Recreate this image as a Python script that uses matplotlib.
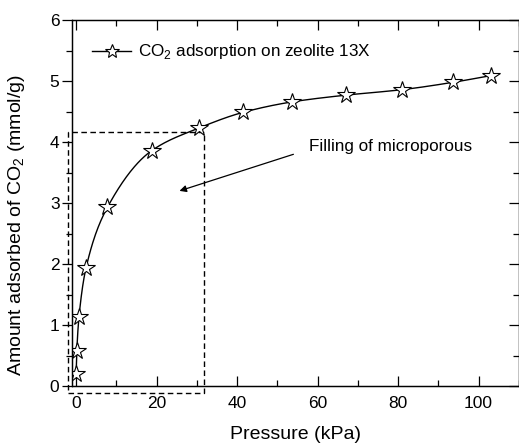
import numpy as np
import matplotlib
matplotlib.use('Agg')
import matplotlib.pyplot as plt
from matplotlib.patches import Rectangle
from matplotlib.ticker import MultipleLocator

plt.rcParams['font.family'] = ['Liberation Sans', 'DejaVu Sans']
plt.rcParams['mathtext.fontset'] = 'custom'
plt.rcParams['mathtext.rm'] = 'Liberation Sans'

# CO2 isotherm
pressure = [0.02, 0.2, 0.75, 2.5, 7.8, 18.8, 30.5, 41.6, 53.7, 67.0, 81.0, 93.6, 103.0]
adsorbed = [0.19, 0.58, 1.14, 1.94, 2.93, 3.86, 4.23, 4.49, 4.66, 4.77, 4.86, 4.98, 5.09]

legend_label = 'CO$_\\mathrm{2}$ adsorption on zeolite 13X'
note_text = 'Filling of microporous'


def pchip(x, y, xn):
    # monotone cubic line through the points, like the origin b-spline
    x = np.asarray(x, float)
    y = np.asarray(y, float)
    h = np.diff(x)
    d = np.diff(y) / h
    m = np.zeros_like(y)
    m[0] = d[0]
    m[-1] = d[-1]
    for k in range(1, len(x) - 1):
        if d[k - 1] * d[k] > 0:
            w1 = 2 * h[k] + h[k - 1]
            w2 = h[k] + 2 * h[k - 1]
            m[k] = (w1 + w2) / (w1 / d[k - 1] + w2 / d[k])
    idx = np.clip(np.searchsorted(x, xn) - 1, 0, len(x) - 2)
    t = (xn - x[idx]) / h[idx]
    h00 = 2 * t**3 - 3 * t**2 + 1
    h10 = t**3 - 2 * t**2 + t
    h01 = -2 * t**3 + 3 * t**2
    h11 = t**3 - t**2
    return h00 * y[idx] + h10 * h[idx] * m[idx] + h01 * y[idx + 1] + h11 * h[idx] * m[idx + 1]


fig = plt.figure(figsize=(5.19, 4.44), dpi=100)
ax = fig.add_axes([0.1387, 0.1306, 0.861, 0.824])

xs = np.concatenate([np.linspace(pressure[0], 3, 300), np.linspace(3, pressure[-1], 600)])
ax.plot(xs, pchip(pressure, adsorbed, xs), color='k', lw=1)
ax.plot(pressure, adsorbed, ls='none', marker='*', ms=13, mfc='white', mec='k', mew=0.8)

# legend handle: line with star in the middle
ax.plot([], [], color='k', lw=1, marker='*', ms=10, mfc='white', mec='k', mew=0.8, label=legend_label)
ax.legend(loc='center left', frameon=False, fontsize=12.3, handlelength=2.3, handletextpad=0.4,
          numpoints=1, bbox_to_anchor=(0.045, 0.913), borderaxespad=0, borderpad=0)

ax.add_patch(Rectangle((-2.05, -0.11), 33.75, 4.28, fill=False, ls=(0, (4, 2.5)), lw=1,
                       color='k', clip_on=False))

ax.annotate('', xy=(25.7, 3.2), xytext=(54, 3.8),
            arrowprops=dict(arrowstyle='-|>', color='k', lw=0.9, mutation_scale=10, shrinkA=0, shrinkB=0))
ax.text(57.9, 3.93, note_text, fontsize=12.3, va='center', ha='left')

ax.set_xlim(-1, 110)
ax.set_ylim(0, 6)
ax.xaxis.set_major_locator(MultipleLocator(20))
ax.xaxis.set_minor_locator(MultipleLocator(10))
ax.yaxis.set_major_locator(MultipleLocator(1))
ax.yaxis.set_minor_locator(MultipleLocator(0.5))
ax.tick_params(axis='x', which='both', direction='in', top=True, labelsize=12.5, pad=7)
ax.tick_params(axis='y', which='both', direction='out', labelsize=12.5, pad=2)
ax.tick_params(which='major', length=7, width=0.9)
ax.tick_params(which='minor', length=4, width=0.9)

# right axis ticks point inward, left outward
ax2 = ax.twinx()
ax2.set_ylim(0, 6)
ax2.yaxis.set_major_locator(MultipleLocator(1))
ax2.yaxis.set_minor_locator(MultipleLocator(0.5))
ax2.tick_params(which='both', direction='in', labelright=False, width=0.9)
ax2.tick_params(which='major', length=7)
ax2.tick_params(which='minor', length=4)

for a in (ax, ax2):
    for s in a.spines.values():
        s.set_linewidth(0.9)

ax.set_xlabel('Pressure (kPa)', fontsize=14)
ax.set_ylabel('Amount adsorbed of CO$_\\mathrm{2}$ (mmol/g)', fontsize=14)
ax.xaxis.set_label_coords(0.5, -0.11)
ax.yaxis.set_label_coords(-0.1, 0.44)

fig.savefig('out.png', dpi=100)
